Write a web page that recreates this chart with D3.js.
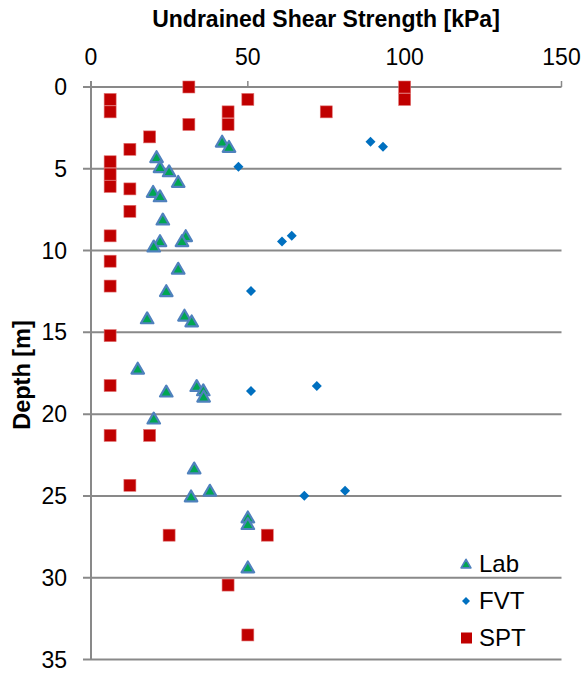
<!DOCTYPE html>
<html><head><meta charset="utf-8">
<script src="https://cdn.jsdelivr.net/npm/d3@7"></script>
<style>body{margin:0;background:#fff;} svg, svg text{font-family:"Liberation Sans",Arial,Helvetica,sans-serif;}</style>
</head><body>
<svg id="chart" width="587" height="676"></svg>
<script>
// Data: [shear strength kPa, depth m]
const labStrength = [41.8,44,20.9,22,24.9,27.8,19.8,22,22.9,30.2,22,29,20,27.8,24,17.9,29.8,32.1,14.9,33.7,35.8,24,35.9,20,32.9,37.9,31.9,50,50,50];
const labDepth    = [3.36,3.68,4.31,4.92,5.17,5.82,6.43,6.7,8.12,9.14,9.44,9.44,9.77,11.13,12.5,14.16,14.0,14.35,17.24,18.3,18.56,18.64,18.95,20.29,23.34,24.7,25.05,26.33,26.74,29.39];
const fvtStrength = [89.1,93.1,47,64,60.9,51,72,51,81,68];
const fvtDepth    = [3.34,3.66,4.88,9.1,9.44,12.47,18.28,18.58,24.68,24.99];
const sptStrength = [31.2,100,6.1,50,100,6.1,43.7,75,31.2,43.7,18.7,12.4,6.1,6.1,6.1,12.4,12.4,6.1,6.1,6.1,6.1,6.1,6.1,18.7,12.4,24.9,56.2,43.7,50];
const sptDepth    = [0,0,0.76,0.76,0.76,1.52,1.52,1.52,2.29,2.29,3.05,3.81,4.57,5.33,6.08,6.23,7.6,9.1,10.65,12.17,15.2,18.25,21.3,21.3,24.35,27.4,27.4,30.45,33.5];
const xTicks = [0,50,100,150];
const yTicks = [0,5,10,15,20,25,30,35];
const seriesNames = ["Lab","FVT","SPT"];

const FONT = "'Liberation Sans', Arial, sans-serif";
const svg = d3.select("#chart");
const x = d3.scaleLinear().domain([0,150]).range([91,561.5]);
const y = d3.scaleLinear().domain([0,35]).range([87,659.5]);
const gray = "#898989";

// gridlines
svg.append("g").selectAll("line").data(yTicks).join("line")
  .attr("x1", 83).attr("x2", x(150))
  .attr("y1", d=>y(d)).attr("y2", d=>y(d))
  .attr("stroke", gray).attr("stroke-width", 2);
// top ticks
svg.append("g").selectAll("line").data(xTicks).join("line")
  .attr("x1", d=>x(d)).attr("x2", d=>x(d))
  .attr("y1", y(0)-6).attr("y2", y(0))
  .attr("stroke", gray).attr("stroke-width", 1.5);
// y axis line
svg.append("line").attr("x1", x(0)).attr("x2", x(0)).attr("y1", y(0)-6).attr("y2", y(35))
  .attr("stroke", gray).attr("stroke-width", 2);

// tick labels
svg.append("g").selectAll("text").data(xTicks).join("text")
  .attr("x", d=>x(d)).attr("y", 65).attr("text-anchor","middle").attr("font-family",FONT)
  .attr("font-size", 23).attr("fill","#000").text(d=>d);
svg.append("g").selectAll("text").data(yTicks).join("text")
  .attr("x", 67).attr("y", d=>y(d)+8).attr("text-anchor","end").attr("font-family",FONT)
  .attr("font-size", 23).attr("fill","#000").text(d=>d);

// titles
svg.append("text").attr("x", 326).attr("y", 27).attr("text-anchor","middle").attr("font-family",FONT)
  .attr("font-size", 23).attr("font-weight","bold").text("Undrained Shear Strength [kPa]");
svg.append("text").attr("transform","translate(30,375) rotate(-90)").attr("text-anchor","middle").attr("font-family",FONT)
  .attr("font-size", 23.5).attr("font-weight","bold").text("Depth [m]");

// symbols
const tri = d3.symbol().type(d3.symbolTriangle).size(68);
const dia = d3.symbol().type(d3.symbolSquare).size(50);

// SPT squares
svg.append("g").selectAll("rect").data(sptStrength.map((v,i)=>[v,sptDepth[i]])).join("rect")
  .attr("x", d=>x(d[0])-6).attr("y", d=>y(d[1])-6).attr("width",12).attr("height",12)
  .attr("fill","#C00000").attr("stroke","#e07070").attr("stroke-width",0.6);
// FVT diamonds
svg.append("g").selectAll("path").data(fvtStrength.map((v,i)=>[v,fvtDepth[i]])).join("path")
  .attr("d", dia).attr("transform", d=>`translate(${x(d[0])},${y(d[1])}) rotate(45)`)
  .attr("fill","#0070C0");
// Lab triangles
svg.append("g").selectAll("path").data(labStrength.map((v,i)=>[v,labDepth[i]])).join("path")
  .attr("d", tri).attr("transform", d=>`translate(${x(d[0])},${y(d[1])+1})`)
  .attr("fill","#00A651").attr("stroke","#4F81BD").attr("stroke-width",2.2).attr("stroke-linejoin","round");

// legend
const lg = svg.append("g");
const ly = [564, 601, 638];
lg.append("path").attr("d", tri).attr("transform", `translate(466,${ly[0]+1}) scale(0.78)`)
  .attr("fill","#00A651").attr("stroke","#4F81BD").attr("stroke-width",2.2).attr("stroke-linejoin","round");
lg.append("path").attr("d", dia).attr("transform", `translate(466,${ly[1]}) rotate(45) scale(0.8)`).attr("fill","#0070C0");
lg.append("rect").attr("x",461).attr("y",ly[2]-5.5).attr("width",11).attr("height",11).attr("fill","#C00000");
lg.selectAll("text.l").data(seriesNames).join("text").attr("class","l").attr("font-family",FONT)
  .attr("x", 479).attr("y", (d,i)=>ly[i]+8).attr("font-size",24).attr("fill","#000").text(d=>d);
</script>
</body></html>
